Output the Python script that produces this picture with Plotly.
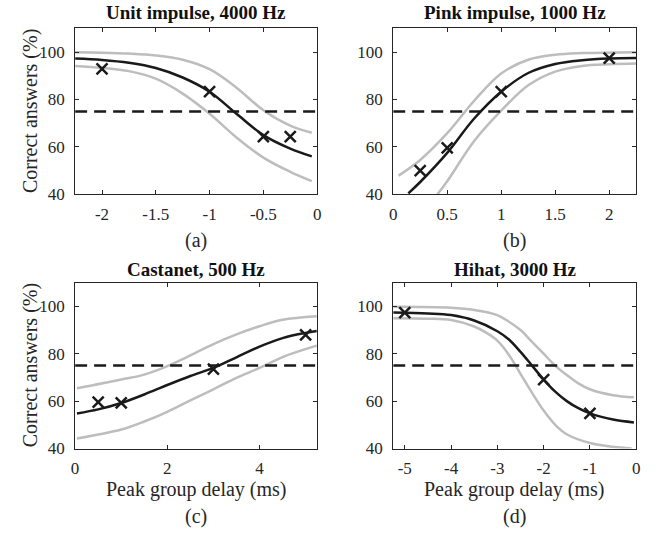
import plotly.graph_objects as go

W, H = 658, 538

# ---------------- data ----------------
threshold = 75

titles = ["Unit impulse, 4000 Hz", "Pink impulse, 1000 Hz", "Castanet, 500 Hz", "Hihat, 3000 Hz"]
panel_labels = ["(a)", "(b)", "(c)", "(d)"]
x_title = "Peak group delay (ms)"
y_title = "Correct answers (%)"

# Panel (a)
a_pts_x = [-2.0, -1.0, -0.5, -0.25]
a_pts_y = [92.9, 83.3, 64.4, 64.4]
a_fit_x = [-2.25, -2.0, -1.75, -1.5, -1.25, -1.0, -0.75, -0.5, -0.25, -0.05]
a_fit_y = [97.3, 96.7, 95.5, 93.3, 89.3, 83.3, 74.0, 65.0, 59.3, 56.0]
a_hi_x = [-2.25, -2.0, -1.75, -1.5, -1.25, -1.0, -0.75, -0.5, -0.25, -0.05]
a_hi_y = [100.0, 99.8, 99.4, 98.6, 96.8, 92.8, 85.0, 75.5, 69.0, 66.0]
a_lo_x = [-2.25, -2.0, -1.75, -1.5, -1.25, -1.0, -0.75, -0.5, -0.25, -0.05]
a_lo_y = [94.2, 93.4, 92.0, 88.8, 82.5, 74.0, 64.0, 55.5, 49.5, 45.6]

# Panel (b)
b_pts_x = [0.25, 0.5, 1.0, 2.0]
b_pts_y = [50.0, 59.6, 83.3, 97.5]
b_fit_x = [0.14, 0.25, 0.5, 0.75, 1.0, 1.25, 1.5, 1.75, 2.0, 2.25]
b_fit_y = [40.4, 45.2, 57.5, 72.0, 83.3, 91.2, 95.0, 96.6, 97.3, 97.5]
b_hi_x = [0.05, 0.25, 0.5, 0.75, 1.0, 1.25, 1.5, 1.75, 2.25]
b_hi_y = [47.9, 54.5, 65.8, 79.5, 91.0, 96.8, 98.9, 99.6, 100.0]
b_lo_x = [0.41, 0.5, 0.75, 1.0, 1.25, 1.5, 1.75, 2.0, 2.25]
b_lo_y = [40.0, 45.5, 62.5, 75.3, 86.0, 91.8, 94.2, 94.9, 95.2]

# Panel (c)
c_pts_x = [0.5, 1.0, 3.0, 5.0]
c_pts_y = [59.6, 59.3, 73.5, 88.0]
c_fit_x = [0.04, 0.5, 1.0, 1.5, 2.0, 2.5, 3.0, 3.5, 4.0, 4.5, 5.0, 5.24]
c_fit_y = [54.8, 56.5, 59.2, 62.8, 66.8, 70.6, 74.0, 78.5, 83.0, 86.6, 88.8, 89.6]
c_hi_x = [0.04, 1.0, 1.5, 2.0, 2.5, 3.0, 3.5, 4.0, 4.5, 5.24]
c_hi_y = [65.4, 69.1, 71.2, 74.8, 79.3, 84.1, 88.2, 91.6, 94.3, 95.8]
c_lo_x = [0.04, 1.0, 1.5, 2.0, 2.5, 3.0, 3.5, 4.0, 4.5, 5.24]
c_lo_y = [44.2, 48.0, 51.4, 55.5, 60.3, 65.0, 69.8, 74.0, 78.6, 83.4]

# Panel (d)
d_pts_x = [-5.0, -2.0, -1.0]
d_pts_y = [97.3, 69.1, 54.8]
d_fit_x = [-5.25, -4.5, -4.0, -3.5, -3.0, -2.75, -2.5, -2.25, -2.0, -1.75, -1.5, -1.25, -1.0, -0.5, -0.05]
d_fit_y = [97.4, 97.0, 96.3, 94.0, 89.5, 86.0, 80.8, 75.0, 69.1, 64.0, 60.0, 57.0, 54.8, 52.2, 51.0]
d_hi_x = [-5.25, -4.0, -3.5, -3.0, -2.75, -2.5, -2.25, -2.0, -1.75, -1.5, -1.25, -1.0, -0.5, -0.05]
d_hi_y = [99.8, 99.4, 98.5, 96.3, 93.5, 90.0, 85.0, 80.0, 75.0, 71.0, 67.5, 65.0, 62.5, 61.6]
d_lo_x = [-5.25, -4.5, -4.0, -3.5, -3.25, -3.0, -2.75, -2.5, -2.25, -2.0, -1.75, -1.5, -1.0, -0.5, -0.1]
d_lo_y = [95.0, 94.8, 94.2, 91.5, 89.0, 85.5, 79.5, 71.5, 63.5, 56.0, 50.0, 46.0, 42.3, 40.7, 40.0]

# axis settings
x_ranges = [[-2.25, 0], [0, 2.25], [0, 5.25], [-5.25, 0]]
x_tickvals = [[-2, -1.5, -1, -0.5, 0], [0, 0.5, 1, 1.5, 2], [0, 2, 4], [-5, -4, -3, -2, -1, 0]]
x_ticktext = [["-2", "-1.5", "-1", "-0.5", "0"], ["0", "0.5", "1", "1.5", "2"],
              ["0", "2", "4"], ["-5", "-4", "-3", "-2", "-1", "0"]]
y_range = [40, 110]
y_tickvals = [40, 60, 80, 100]

panels = [
    (a_pts_x, a_pts_y, a_fit_x, a_fit_y, a_hi_x, a_hi_y, a_lo_x, a_lo_y),
    (b_pts_x, b_pts_y, b_fit_x, b_fit_y, b_hi_x, b_hi_y, b_lo_x, b_lo_y),
    (c_pts_x, c_pts_y, c_fit_x, c_fit_y, c_hi_x, c_hi_y, c_lo_x, c_lo_y),
    (d_pts_x, d_pts_y, d_fit_x, d_fit_y, d_hi_x, d_hi_y, d_lo_x, d_lo_y),
]

# ---------------- layout geometry (pixels) ----------------
FONT = "Liberation Serif, Times New Roman, serif"
BLACK = "#1a1a1a"
GRAY = "#bdbdbd"
TXT = "#262626"

col_x = [(72, 317), (394, 640)]
row_y = [(29, 198), (288, 457)]  # top, bottom in pixels


def px(x):
    return x / W


def py(y):
    return (H - y) / H


fig = go.Figure()
layout = dict(
    width=W, height=H,
    margin=dict(l=0, r=0, t=0, b=0),
    paper_bgcolor="white", plot_bgcolor="white",
    showlegend=False,
    font=dict(family=FONT, color=TXT, size=17),
)
annotations = []

for i, (px_, py_, fx, fy, hx, hy, lx, ly) in enumerate(panels):
    r, c = divmod(i, 2)
    n = "" if i == 0 else str(i + 1)
    xa, ya = "x" + n, "y" + n
    x0, x1 = col_x[c]
    top, bot = row_y[r]

    common = dict(showline=True, linecolor=TXT, linewidth=1, mirror="ticks",
                  ticks="inside", ticklen=4, tickcolor=TXT, showgrid=False,
                  zeroline=False, tickfont=dict(family=FONT, size=17, color=TXT))
    layout["xaxis" + n] = dict(common, domain=[px(x0), px(x1)], range=x_ranges[i],
                               tickvals=x_tickvals[i], ticktext=x_ticktext[i],
                               anchor=ya, ticklabelstandoff=4)
    layout["yaxis" + n] = dict(common, domain=[py(bot), py(top)], range=y_range,
                               tickvals=y_tickvals, anchor=xa, ticklabelstandoff=6)

    xr = x_ranges[i]
    spl = dict(shape="spline", smoothing=1.0)
    fig.add_trace(go.Scatter(x=hx, y=hy, mode="lines", line=dict(color=GRAY, width=2.5, **spl),
                             xaxis=xa, yaxis=ya))
    fig.add_trace(go.Scatter(x=lx, y=ly, mode="lines", line=dict(color=GRAY, width=2.5, **spl),
                             xaxis=xa, yaxis=ya))
    fig.add_trace(go.Scatter(x=xr, y=[threshold, threshold], mode="lines",
                             line=dict(color=BLACK, width=2.5, dash="12px,7px"),
                             xaxis=xa, yaxis=ya))
    fig.add_trace(go.Scatter(x=fx, y=fy, mode="lines", line=dict(color=BLACK, width=2.5, **spl),
                             xaxis=xa, yaxis=ya))
    fig.add_trace(go.Scatter(x=px_, y=py_, mode="markers",
                             marker=dict(symbol="x-thin", size=11, color=BLACK,
                                         line=dict(width=2.5, color=BLACK)),
                             xaxis=xa, yaxis=ya, cliponaxis=False))

    cx = (x0 + x1) / 2
    title_y = 13 if r == 0 else 275
    annotations.append(dict(text="<b>%s</b>" % titles[i], x=px(cx), y=py(title_y), xref="paper", yref="paper",
                            xanchor="center", yanchor="middle", showarrow=False,
                            font=dict(family=FONT, size=19, color="#111111")))
    label_y = 245 if r == 0 else 526
    annotations.append(dict(text=panel_labels[i], x=px(cx), y=py(label_y), xref="paper", yref="paper",
                            xanchor="center", yanchor="middle", showarrow=False,
                            font=dict(family=FONT, size=20, color=TXT)))
    if r == 1:
        annotations.append(dict(text=x_title, x=px(cx), y=py(499), xref="paper", yref="paper",
                                xanchor="center", yanchor="middle", showarrow=False,
                                font=dict(family=FONT, size=20, color=TXT)))
    if c == 0:
        annotations.append(dict(text=y_title, x=px(27), y=py((top + bot) / 2), xref="paper", yref="paper",
                                xanchor="center", yanchor="middle", showarrow=False, textangle=-90,
                                font=dict(family=FONT, size=20, color=TXT)))

layout["annotations"] = annotations
fig.update_layout(**layout)
fig.write_html("out.html")
